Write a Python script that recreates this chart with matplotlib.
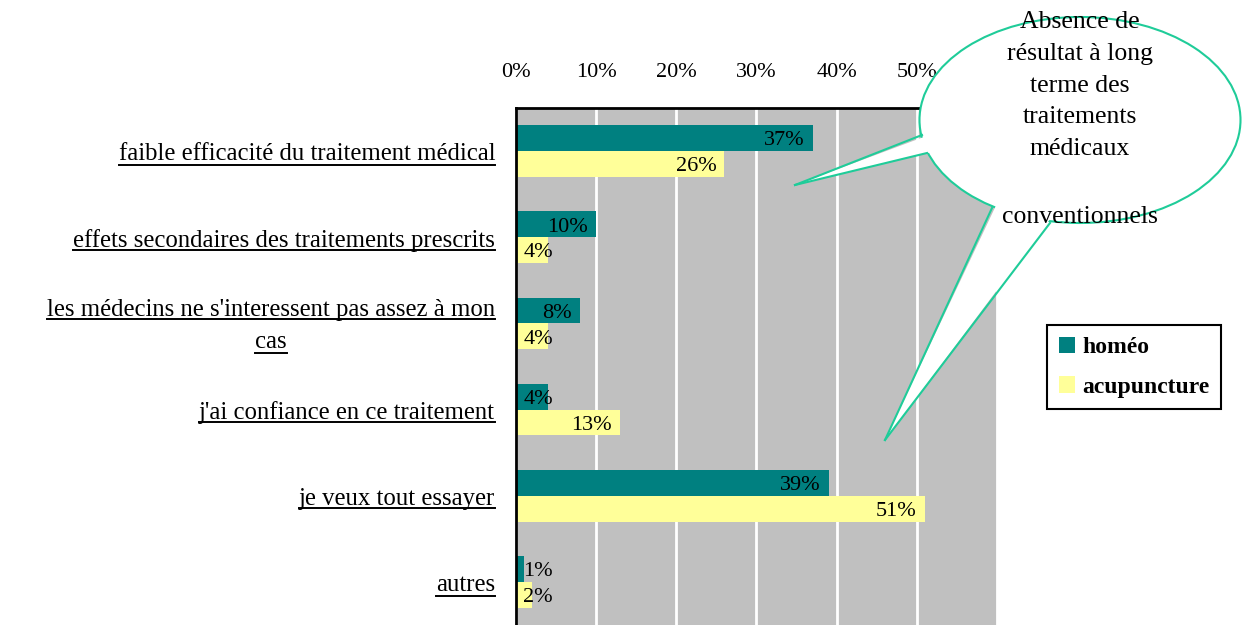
import numpy as np
import matplotlib
matplotlib.use('Agg')
import matplotlib.pyplot as plt
from matplotlib.patches import Patch, Ellipse, Polygon
from matplotlib.lines import Line2D
import matplotlib.transforms as mtransforms

plt.rcParams['font.family'] = ['Liberation Serif', 'DejaVu Serif']

# données
categories = ["faible efficacité du traitement médical",
              "effets secondaires des traitements prescrits",
              "les médecins ne s'interessent pas assez à mon\ncas",
              "j'ai confiance en ce traitement",
              "je veux tout essayer",
              "autres"]
homeo = [37, 10, 8, 4, 39, 1]
acupuncture = [26, 4, 4, 13, 51, 2]
series_names = ["homéo", "acupuncture"]
ticks = [0, 10, 20, 30, 40, 50, 60]
callout_lines = ["Absence de", "résultat à long", "terme des", "traitements",
                 "médicaux", "", "conventionnels"]

teal = '#008080'
jaune = '#FFFF99'
gris = '#C0C0C0'
vert = '#1FCC99'

W, H = 1248, 625
fig = plt.figure(figsize=(W / 100, H / 100), dpi=100)
ax = fig.add_axes([516 / W, 0, 481 / W, 1 - 108 / H])
ax.set_facecolor(gris)

y = np.arange(len(categories))
h = 0.3
ax.barh(y - h / 2, homeo, height=h, color=teal, zorder=2)
ax.barh(y + h / 2, acupuncture, height=h, color=jaune, zorder=2)

# étiquettes des valeurs
for yy, vals in ((y - h / 2, homeo), (y + h / 2, acupuncture)):
    for yi, v in zip(yy, vals):
        ax.annotate(f"{v}%", (max(v - 1.0, 4.6), yi), xytext=(0, -2),
                    textcoords='offset points', ha='right', va='center',
                    fontsize=16, zorder=3)

ax.set_xlim(0, 60)
ax.set_ylim(len(categories) - 0.5, -0.5)
ax.xaxis.tick_top()
ax.set_xticks(ticks)
ax.set_xticklabels([f"{t}%" for t in ticks], fontsize=16)
ax.tick_params(axis='x', length=0, pad=19)
ax.set_yticks([])
ax.grid(axis='x', color='white', linewidth=2, zorder=1)
ax.set_axisbelow(True)
for s in ('right', 'bottom'):
    ax.spines[s].set_visible(False)
for s in ('left', 'top'):
    ax.spines[s].set_linewidth(2)

# libellés des catégories (soulignés)
cat_texts = []
for yi, lab in zip(y, categories):
    lines = lab.split('\n')
    n = len(lines)
    for i, line in enumerate(lines):
        off = (i - (n - 1) / 2) * -23 - 2  # points
        tr = mtransforms.offset_copy(ax.get_yaxis_transform(), fig=fig,
                                     x=-15, y=off, units='points')
        if n > 1 and i > 0:
            t = ax.text(0, yi, line, transform=tr, fontsize=17.8,
                        ha='center', va='center', clip_on=False)
            cat_texts.append((t, 'center'))
        else:
            t = ax.text(0, yi, line, transform=tr, fontsize=17.8,
                        ha='right', va='center', clip_on=False)
            cat_texts.append((t, 'right'))

fig.canvas.draw()
r = fig.canvas.get_renderer()
inv = fig.transFigure.inverted()
# recentrer la 2e ligne sous la 1re
for k, (t, mode) in enumerate(cat_texts):
    if mode == 'center':
        bb0 = cat_texts[k - 1][0].get_window_extent(r)
        cx = (bb0.x0 + bb0.x1) / 2
        axx = ax.transAxes.inverted().transform((cx + 15 * 100 / 72, 0))[0]
        t.set_x(axx)
fig.canvas.draw()
for t, mode in cat_texts:
    bb = t.get_window_extent(r)
    _, _, d = r.get_text_width_height_descent(t.get_text(), t.get_fontproperties(), ismath=False)
    yl = bb.y0 + d * 0.4
    p0 = inv.transform((bb.x0, yl))
    p1 = inv.transform((bb.x1, yl))
    fig.add_artist(Line2D([p0[0], p1[0]], [p0[1], p1[1]], color='black', linewidth=1.4))

# légende
handles = [Patch(facecolor=teal, edgecolor='none'), Patch(facecolor=jaune, edgecolor='none')]
leg = fig.legend(handles, series_names, loc='upper left',
                 bbox_to_anchor=(1047 / W, 1 - 325 / H), fancybox=False,
                 edgecolor='black', framealpha=1, handlelength=0.7,
                 handleheight=0.7, handletextpad=0.3, labelspacing=0.75,
                 borderpad=0.5, borderaxespad=0,
                 prop={'weight': 'bold', 'size': 17})
leg.get_frame().set_linewidth(1.5)

# bulle
def fp(px, py):
    return (px / W, 1 - py / H)

tails = [[(922, 135), (795, 185), (927, 153)],
         [(992, 208), (885, 440), (1050, 223)]]
ell = Ellipse(fp(1080, 120), 321 / W, 206 / H, transform=fig.transFigure,
              facecolor='white', edgecolor=vert, linewidth=1.5, zorder=5)
fig.add_artist(ell)
for a, tip, b in tails:
    # pousser la base dans la bulle pour masquer le contour
    cx, cy = 1080, 120
    a2 = (a[0] + (cx - a[0]) * 0.06, a[1] + (cy - a[1]) * 0.06)
    b2 = (b[0] + (cx - b[0]) * 0.06, b[1] + (cy - b[1]) * 0.06)
    poly = Polygon([fp(*a2), fp(*tip), fp(*b2)], closed=True,
                   transform=fig.transFigure, facecolor='white',
                   edgecolor='none', zorder=6)
    fig.add_artist(poly)
    for pt in (a, b):
        p, q = fp(*pt), fp(*tip)
        fig.add_artist(Line2D([p[0], q[0]], [p[1], q[1]], color=vert,
                              linewidth=1.5, zorder=7))

ys = [22, 54, 86, 117, 149, 181, 217]
for yy, line in zip(ys, callout_lines):
    if line:
        fig.text(*fp(1080, yy), line, ha='center', va='center', fontsize=18.5, zorder=8)

fig.savefig('out.png', dpi=100)
